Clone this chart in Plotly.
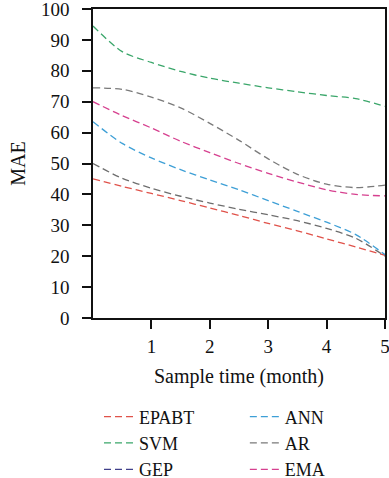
import plotly.graph_objects as go

x_vals = [0, 0.5, 1, 1.5, 2, 2.5, 3, 3.5, 4, 4.5, 5]
epabt = [45, 42.6, 40.3, 38, 35.6, 33.2, 30.6, 28.2, 25.6, 23, 20.3]
svm = [94.5, 86.2, 82.7, 79.8, 77.6, 76, 74.5, 73.2, 72, 71, 68.5]
gep = [50, 45.2, 42, 39.4, 37.2, 35.2, 33.4, 31.5, 29, 25.8, 20]
ann = [63.5, 56.5, 51.8, 48, 44.7, 41.5, 38, 34.5, 31, 27, 20.5]
ar = [74.5, 74, 71.5, 68, 63, 57.5, 51.5, 46.5, 43.3, 42.2, 43]
ema = [70, 65.5, 61.5, 57.2, 53.5, 50, 46.8, 44, 41.5, 40, 39.5]

# name, values, line colour, legend colour, legend column
series = [
    ("EPABT", epabt, "#e0524a", "#e0524a", "legend"),
    ("SVM", svm, "#3aa66a", "#3aa66a", "legend"),
    ("GEP", gep, "#6e6e6e", "#40408a", "legend"),
    ("ANN", ann, "#3d9fd6", "#3d9fd6", "legend2"),
    ("AR", ar, "#7a7a7a", "#7a7a7a", "legend2"),
    ("EMA", ema, "#d6408f", "#d6408f", "legend2"),
]

x_ticks = [1, 2, 3, 4, 5]
y_ticks = [0, 10, 20, 30, 40, 50, 60, 70, 80, 90, 100]

fig = go.Figure()
dash = "7px,4px"
for name, vals, col, legcol, leg in series:
    fig.add_trace(go.Scatter(x=x_vals, y=vals, mode="lines", name=name,
                             line=dict(color=col, width=1.3, dash=dash, shape="spline",
                                       smoothing=0.8),
                             showlegend=False))
for name, vals, col, legcol, leg in series:
    fig.add_trace(go.Scatter(x=[None], y=[None], mode="lines", name=name,
                             line=dict(color=legcol, width=1.3, dash=dash),
                             showlegend=True, legend=leg))

font_family = "Liberation Serif, Times New Roman, serif"
txt = "#111111"
leg_common = dict(orientation="v", yanchor="top", xanchor="left",
                  font=dict(size=18, family=font_family, color=txt),
                  bgcolor="rgba(0,0,0,0)", tracegroupgap=0, borderwidth=0)
fig.update_layout(
    width=389, height=478,
    margin=dict(l=93, r=4, t=9, b=160, autoexpand=False),
    plot_bgcolor="white", paper_bgcolor="white",
    font=dict(family=font_family, size=19, color=txt),
    xaxis=dict(range=[0, 5], tickvals=x_ticks, ticks="outside", ticklen=9,
               tickwidth=1.5, tickcolor=txt, showline=True, linecolor=txt,
               linewidth=1.5, mirror=True, showgrid=False, zeroline=False,
               ticklabeloverflow="allow", automargin=False, ticklabelstandoff=1,
               title=dict(text="Sample time (month)", standoff=13, font=dict(size=20))),
    yaxis=dict(range=[0, 100], tickvals=y_ticks, ticks="outside", ticklen=9,
               tickwidth=1.5, tickcolor=txt, showline=True, linecolor=txt,
               linewidth=1.5, mirror=True, showgrid=False, zeroline=False,
               ticklabeloverflow="allow", automargin=False, ticklabelstandoff=9,
               title=dict(text="MAE", standoff=10, font=dict(size=20))),
    legend=dict(x=0.0205, y=-0.26, **leg_common),
    legend2=dict(x=0.52, y=-0.26, **leg_common),
)
fig.write_html("out.html", config={"displayModeBar": False},
               post_script="document.body.style.margin='0';document.body.style.overflow='hidden';")
